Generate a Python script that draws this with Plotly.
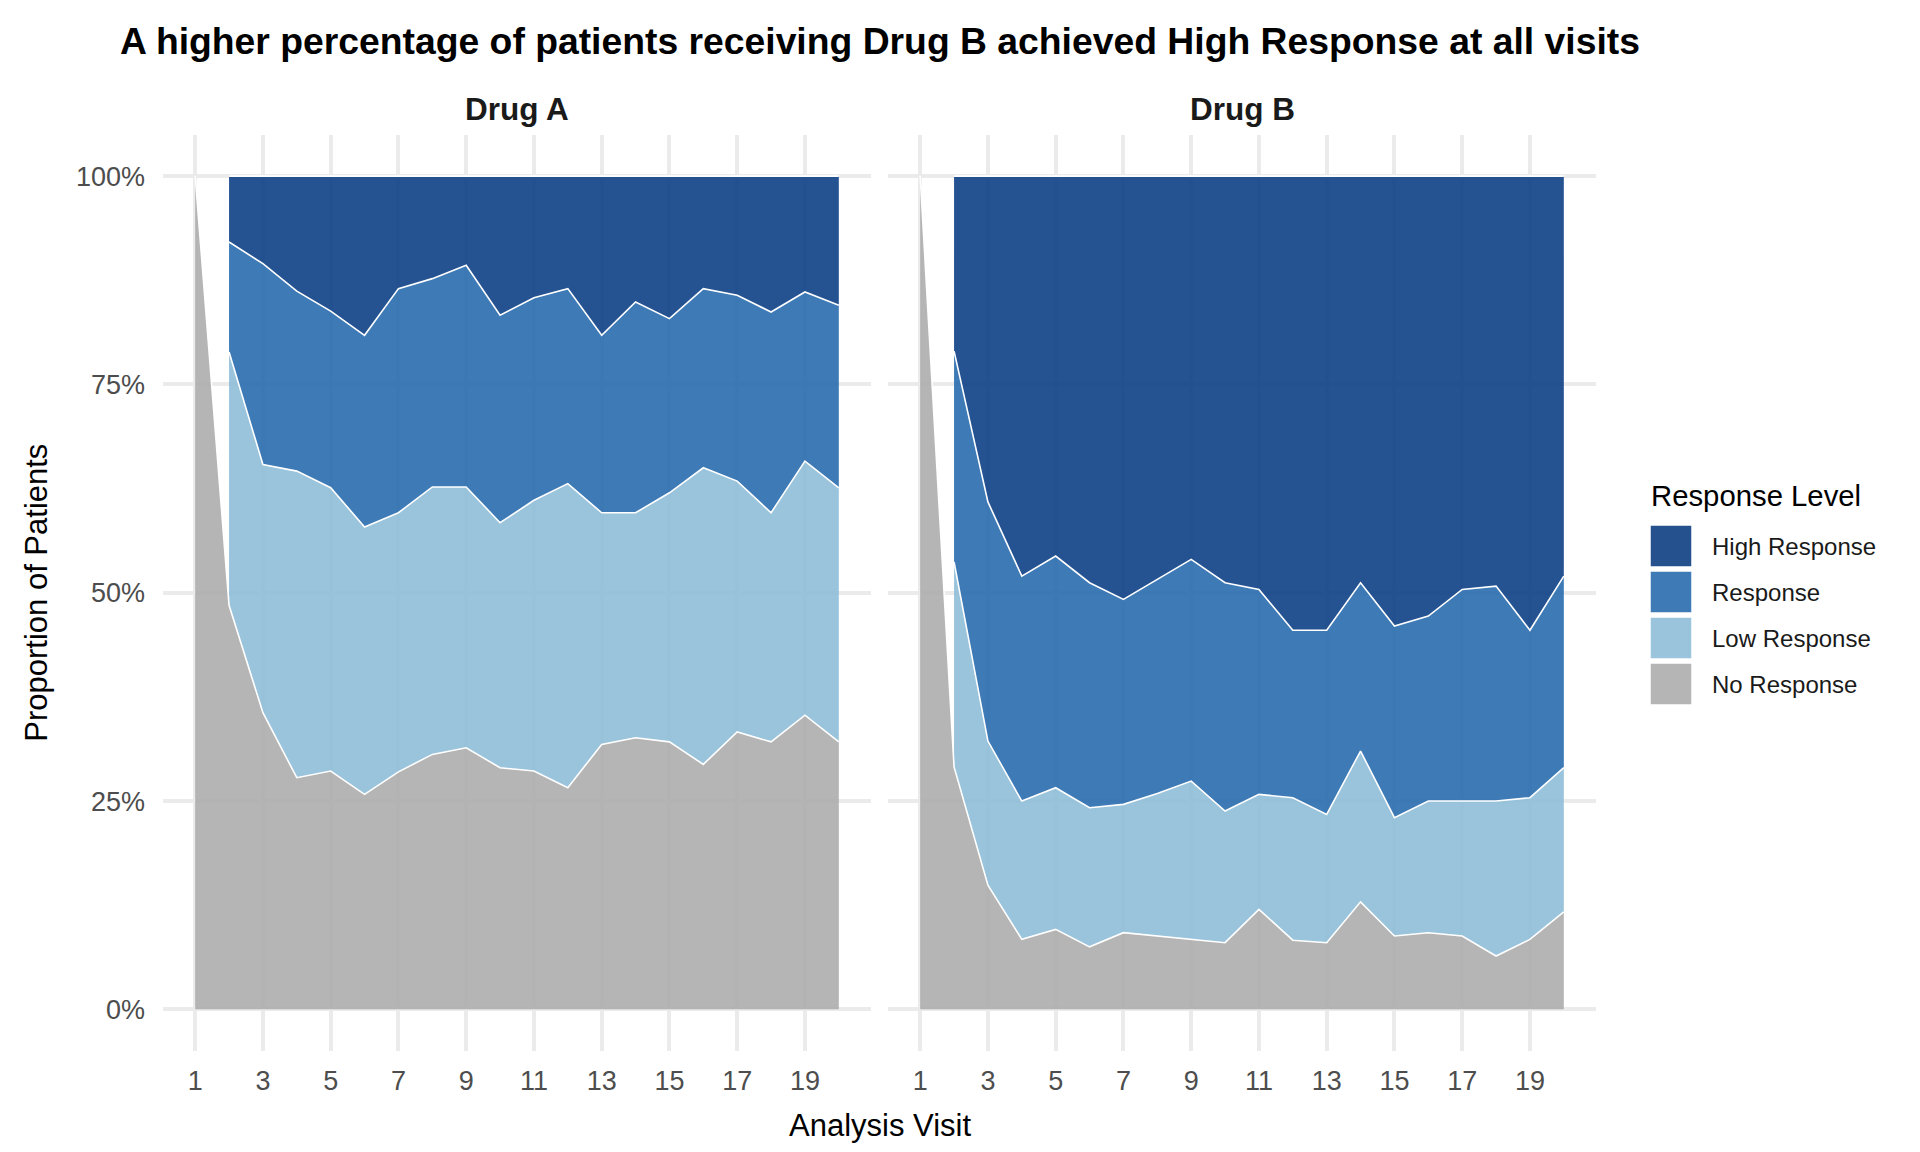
import plotly.graph_objects as go

# ---------------- data (percent of patients) ----------------
visits = list(range(1, 21))
drugs = ["Drug A", "Drug B"]
levels = ["High Response", "Response", "Low Response", "No Response"]

drug_a_no_response = [100, 48.5, 35.6, 27.8, 28.6, 25.8, 28.5, 30.6, 31.4, 29.0,
                      28.6, 26.6, 31.8, 32.6, 32.1, 29.4, 33.3, 32.1, 35.3, 32.1]
drug_a_low_response = [None, 30.4, 29.8, 36.8, 34.0, 32.1, 31.1, 32.1, 31.3, 29.4,
                       32.5, 36.5, 27.8, 27.0, 29.9, 35.6, 30.1, 27.5, 30.5, 30.5]
drug_a_response = [None, 13.2, 24.1, 21.6, 21.2, 23.0, 26.9, 25.0, 26.6, 24.9,
                   24.3, 23.4, 21.3, 25.3, 20.9, 21.5, 22.3, 24.1, 20.3, 21.9]
drug_a_high_response = [None, 7.9, 10.5, 13.8, 16.2, 19.1, 13.5, 12.3, 10.7, 16.7,
                        14.6, 13.5, 19.1, 15.1, 17.1, 13.5, 14.3, 16.3, 13.9, 15.5]

drug_b_no_response = [100, 29.1, 14.9, 8.4, 9.6, 7.5, 9.2, 8.8, 8.4, 8.0,
                      12.0, 8.3, 8.0, 12.9, 8.8, 9.2, 8.8, 6.4, 8.4, 11.7]
drug_b_low_response = [None, 24.6, 17.3, 16.6, 17.0, 16.7, 15.4, 17.1, 19.0, 15.8,
                       13.8, 17.1, 15.4, 18.1, 14.2, 15.8, 16.2, 18.6, 17.0, 17.3]
drug_b_response = [None, 25.3, 28.7, 27.0, 27.8, 27.0, 24.6, 25.7, 26.6, 27.4,
                   24.6, 20.1, 22.1, 20.2, 23.0, 22.2, 25.4, 25.8, 20.1, 23.0]
drug_b_high_response = [None, 21.0, 39.1, 48.0, 45.6, 48.8, 50.8, 48.4, 46.0, 48.8,
                        49.6, 54.5, 54.5, 48.8, 54.0, 52.8, 49.6, 49.2, 54.5, 48.0]

x_tick_vals = [1, 3, 5, 7, 9, 11, 13, 15, 17, 19]
y_tick_vals = [0, 0.25, 0.5, 0.75, 1.0]
y_tick_text = ["0%", "25%", "50%", "75%", "100%"]

series = {
    "Drug A": {"No Response": drug_a_no_response, "Low Response": drug_a_low_response,
               "Response": drug_a_response, "High Response": drug_a_high_response},
    "Drug B": {"No Response": drug_b_no_response, "Low Response": drug_b_low_response,
               "Response": drug_b_response, "High Response": drug_b_high_response},
}

# ---------------- styles ----------------
FONT = "Liberation Sans, Arial, Helvetica, sans-serif"
fill_colors = {
    "High Response": "rgba(13,63,133,0.9)",
    "Response": "rgba(41,108,174,0.9)",
    "Low Response": "rgba(143,189,216,0.9)",
    "No Response": "rgba(173,173,173,0.9)",
}
legend_colors = {
    "High Response": "#25528F",
    "Response": "#3E7BB6",
    "Low Response": "#9AC4DC",
    "No Response": "#B5B5B5",
}
W, H = 1920, 1152
px_x = lambda p: p / W
px_y = lambda p: 1 - p / H

panel_dom = [[155 / W, 863 / W], [880 / W, 1588 / W]]
y_dom = [(H - 1043.0) / H, (H - 126.5) / H]

fig = go.Figure()
stack_order = ["No Response", "Low Response", "Response", "High Response"]

for i, drug in enumerate(drugs):
    xa = "x" if i == 0 else "x2"
    ya = "y" if i == 0 else "y2"
    lower = [0.0] * len(visits)
    line_traces = []
    for lvl in stack_order:
        vals = series[drug][lvl]
        idx = [k for k, v in enumerate(vals) if v is not None]
        xs = [visits[k] for k in idx]
        lo = [lower[k] for k in idx]
        up = [lower[k] + vals[k] / 100.0 for k in idx]
        fig.add_trace(go.Scatter(
            x=xs + xs[::-1], y=up + lo[::-1], fill="toself", mode="lines",
            line=dict(width=0), fillcolor=fill_colors[lvl],
            xaxis=xa, yaxis=ya, hoverinfo="skip", showlegend=False))
        line_traces.append(go.Scatter(
            x=xs, y=up, mode="lines", line=dict(color="white", width=1.6),
            xaxis=xa, yaxis=ya, hoverinfo="skip", showlegend=False))
        for k in idx:
            lower[k] = lower[k] + vals[k] / 100.0
    for t in line_traces:
        fig.add_trace(t)

axis_common = dict(showgrid=True, gridcolor="#EBEBEB", gridwidth=3.5, zeroline=False,
                   showline=False, ticks="", tickfont=dict(family=FONT, size=27, color="#4D4D4D"))

fig.update_layout(
    width=W, height=H, paper_bgcolor="white", plot_bgcolor="white",
    margin=dict(l=0, r=0, t=0, b=0), showlegend=False,
    xaxis=dict(domain=panel_dom[0], range=[0.05, 20.95], tickvals=x_tick_vals,
               anchor="y", ticklabelstandoff=11, **axis_common),
    xaxis2=dict(domain=panel_dom[1], range=[0.05, 20.95], tickvals=x_tick_vals,
                anchor="y2", ticklabelstandoff=11, **axis_common),
    yaxis=dict(domain=y_dom, range=[-0.05, 1.05], tickvals=y_tick_vals, ticktext=y_tick_text,
               anchor="x", ticklabelstandoff=17, **axis_common),
    yaxis2=dict(domain=y_dom, range=[-0.05, 1.05], tickvals=y_tick_vals, ticktext=y_tick_text,
                anchor="x2", showticklabels=False, matches="y", **axis_common),
)

ann = []
# title
ann.append(dict(text="<b>A higher percentage of patients receiving Drug B achieved High Response at all visits</b>",
                x=px_x(871.5), y=px_y(33), xref="paper", yref="paper", showarrow=False,
                xanchor="center", yanchor="middle", font=dict(family=FONT, size=37.3, color="black")))
# strip labels
for i, drug in enumerate(drugs):
    cx = (panel_dom[i][0] + panel_dom[i][1]) / 2
    ann.append(dict(text="<b>" + drug + "</b>", x=cx, y=px_y(101), xref="paper", yref="paper",
                    showarrow=False, xanchor="center", yanchor="middle",
                    font=dict(family=FONT, size=31.5, color="#1A1A1A")))
# axis titles
ann.append(dict(text="Analysis Visit", x=px_x(871.5), y=px_y(1117), xref="paper", yref="paper",
                showarrow=False, xanchor="center", yanchor="middle",
                font=dict(family=FONT, size=31, color="black")))
ann.append(dict(text="Proportion of Patients", x=px_x(29), y=(y_dom[0] + y_dom[1]) / 2,
                xref="paper", yref="paper", showarrow=False, textangle=-90,
                xanchor="center", yanchor="middle", font=dict(family=FONT, size=31, color="black")))
# legend
ann.append(dict(text="Response Level", x=px_x(1641), y=px_y(487), xref="paper", yref="paper",
                showarrow=False, xanchor="left", yanchor="middle",
                font=dict(family=FONT, size=29.3, color="black")))
shapes = []
box_tops = [517, 563, 609, 655]
for lvl, top in zip(levels, box_tops):
    shapes.append(dict(type="rect", xref="paper", yref="paper",
                       x0=px_x(1642), x1=px_x(1684), y0=px_y(top + 42), y1=px_y(top),
                       fillcolor=legend_colors[lvl], line=dict(color="white", width=1.5)))
    ann.append(dict(text=lvl, x=px_x(1702), y=px_y(top + 21), xref="paper", yref="paper",
                    showarrow=False, xanchor="left", yanchor="middle",
                    font=dict(family=FONT, size=24, color="#1A1A1A")))

fig.update_layout(annotations=ann, shapes=shapes)
fig.write_html("out.html")
